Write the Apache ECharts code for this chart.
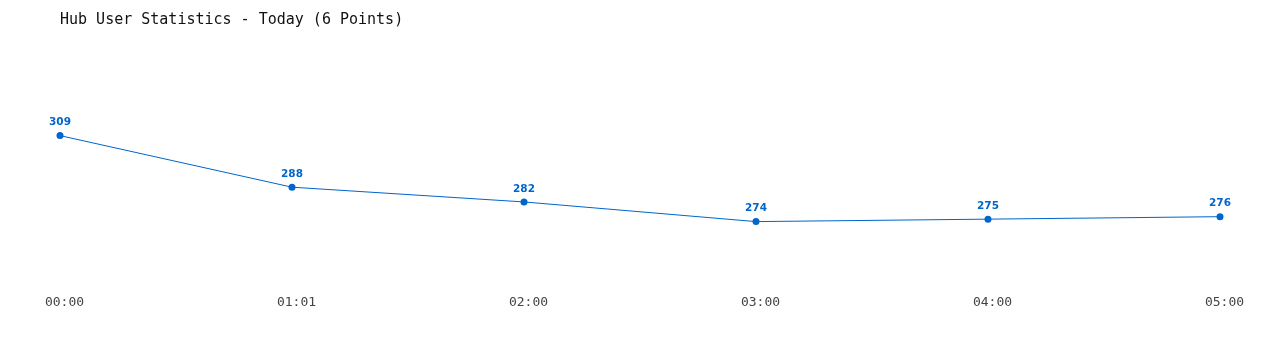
<!DOCTYPE html>
<html>
<head>
<meta charset="utf-8">
<script src="https://cdn.jsdelivr.net/npm/echarts@6/dist/echarts.min.js"></script>
<style>html,body{margin:0;padding:0;background:#fff;}#c{width:1280px;height:350px;}</style>
</head>
<body>
<div id="c"></div>
<script>
const categories = ['00:00', '01:01', '02:00', '03:00', '04:00', '05:00'];
const users = [309, 288, 282, 274, 275, 276];
const titleText = 'Hub User Statistics - Today (6 Points)';

const chart = echarts.init(document.getElementById('c'), null, {renderer: 'canvas'});
chart.setOption({
  backgroundColor: '#ffffff',
  animation: false,
  title: {
    text: titleText,
    left: 55, top: 8,
    textStyle: {fontFamily: 'DejaVu Sans Mono', fontSize: 15, fontWeight: 'normal', color: '#111'}
  },
  grid: {left: 60, right: 60, top: 84, bottom: 94},
  xAxis: {
    type: 'category',
    data: categories,
    boundaryGap: false,
    axisLine: {show: false},
    axisTick: {show: false},
    axisLabel: {
      fontFamily: 'DejaVu Sans Mono', fontSize: 13, color: '#444',
      margin: 40, padding: [0, 0, 0, 9]
    },
    splitLine: {show: false}
  },
  yAxis: {
    type: 'value',
    min: 260, max: 330,
    show: false,
    splitLine: {show: false}
  },
  series: [{
    type: 'line',
    data: users,
    symbol: 'circle',
    symbolSize: 7,
    lineStyle: {color: '#0066cc', width: 1},
    itemStyle: {color: '#0066cc'},
    label: {
      show: true, position: 'top', distance: 4,
      fontFamily: 'DejaVu Sans', fontWeight: 'bold', fontSize: 10.5, color: '#0066cc'
    }
  }]
});
</script>
</body>
</html>
